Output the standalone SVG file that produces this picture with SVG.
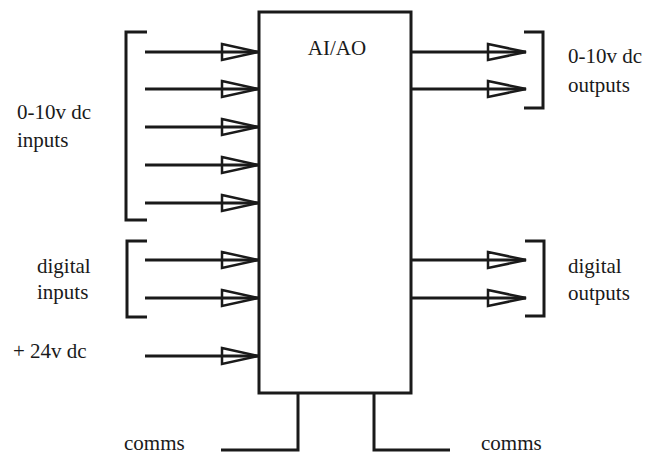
<svg xmlns="http://www.w3.org/2000/svg" width="649" height="455" viewBox="0 0 649 455">
<style>
.ln{stroke:#1a1a1a;stroke-width:3;fill:none}
.ah{stroke:#1a1a1a;stroke-width:2.5;fill:none;stroke-linejoin:miter}
.t{font-family:'Liberation Serif','Times New Roman','DejaVu Serif',serif;font-size:21px;fill:#1a1a1a}
</style>
<rect width="649" height="455" fill="#fff"/>
<g id="module">
<rect class="ln" x="259" y="12" width="152" height="381"/>
<text class="t" x="337" y="55" text-anchor="middle">AI/AO</text>
</g>
<g id="connectors">
<line class="ln" x1="145" y1="52" x2="258" y2="52"/>
<line class="ln" x1="145" y1="89" x2="258" y2="89"/>
<line class="ln" x1="145" y1="127" x2="258" y2="127"/>
<line class="ln" x1="145" y1="165" x2="258" y2="165"/>
<line class="ln" x1="145" y1="203" x2="258" y2="203"/>
<line class="ln" x1="145" y1="260" x2="258" y2="260"/>
<line class="ln" x1="145" y1="298" x2="258" y2="298"/>
<line class="ln" x1="145" y1="356" x2="258" y2="356"/>
<line class="ln" x1="411" y1="52" x2="526" y2="52"/>
<line class="ln" x1="411" y1="89" x2="526" y2="89"/>
<line class="ln" x1="411" y1="260" x2="526" y2="260"/>
<line class="ln" x1="411" y1="298" x2="526" y2="298"/>
<g class="heads">
<polygon class="ah" points="222,44 258,52 222,60"/>
<polygon class="ah" points="222,81 258,89 222,97"/>
<polygon class="ah" points="222,119 258,127 222,135"/>
<polygon class="ah" points="222,157 258,165 222,173"/>
<polygon class="ah" points="222,195 258,203 222,211"/>
<polygon class="ah" points="222,252 258,260 222,268"/>
<polygon class="ah" points="222,290 258,298 222,306"/>
<polygon class="ah" points="222,348 258,356 222,364"/>
<polygon class="ah" points="488,44 526,52 488,60"/>
<polygon class="ah" points="488,81 526,89 488,97"/>
<polygon class="ah" points="488,252 526,260 488,268"/>
<polygon class="ah" points="488,290 526,298 488,306"/>
</g>
<polyline class="ln" points="298,393 298,450 221,450"/>
<polyline class="ln" points="374,393 374,450 450,450"/>
</g>
<g id="analog-inputs">
<polyline class="ln" points="147,32 126,32 126,220 147,220"/>
<text class="t" x="17" y="119">0-10v dc</text>
<text class="t" x="17" y="147">inputs</text>
</g>
<g id="digital-inputs">
<polyline class="ln" points="147,241 127,241 127,317 147,317"/>
<text class="t" x="37" y="273">digital</text>
<text class="t" x="37" y="299">inputs</text>
</g>
<g id="power">
<text class="t" x="13" y="358">+ 24v dc</text>
</g>
<g id="analog-outputs">
<polyline class="ln" points="524,32 543,32 543,108 524,108"/>
<text class="t" x="568" y="63">0-10v dc</text>
<text class="t" x="568" y="92">outputs</text>
</g>
<g id="digital-outputs">
<polyline class="ln" points="525,241 544,241 544,316 525,316"/>
<text class="t" x="568" y="273">digital</text>
<text class="t" x="568" y="300">outputs</text>
</g>
<g id="comms-left"><text class="t" x="124" y="450">comms</text></g>
<g id="comms-right"><text class="t" x="481" y="450">comms</text></g>
</svg>
